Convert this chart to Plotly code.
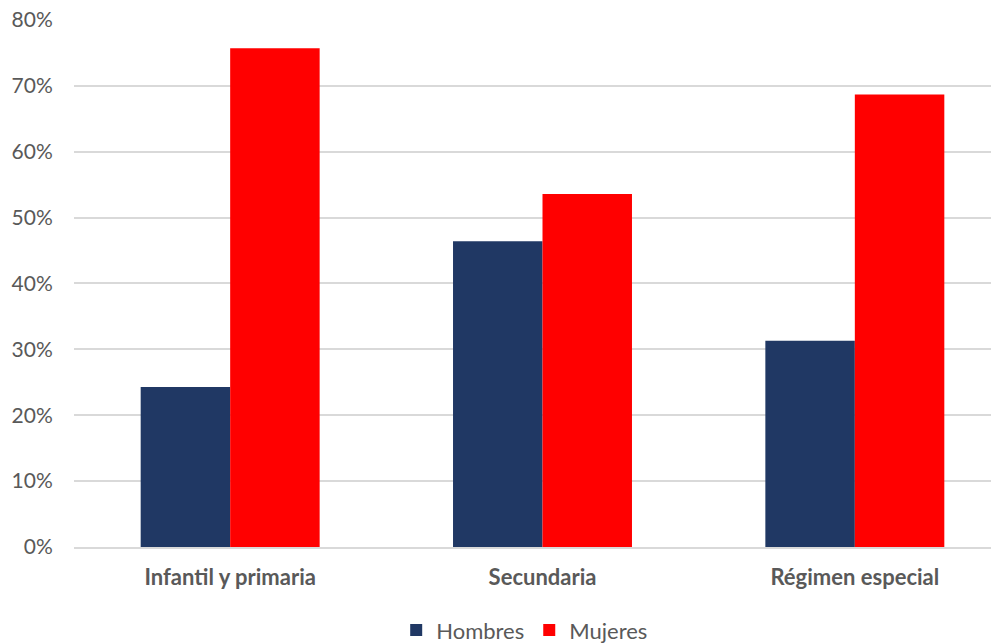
import plotly.graph_objects as go

categories = ["Infantil y primaria", "Secundaria", "Régimen especial"]
hombres = [0.243, 0.464, 0.313]
mujeres = [0.757, 0.536, 0.687]
tick_vals = [0, 0.1, 0.2, 0.3, 0.4, 0.5, 0.6, 0.7, 0.8]
tick_text = ["0%", "10%", "20%", "30%", "40%", "50%", "60%", "70%", "80%"]

font_family = "Lato, Carlito, Calibri, sans-serif"
grey = "#595959"

fig = go.Figure()
fig.add_trace(go.Bar(name="Hombres", x=categories, y=hombres, marker_color="#203864",
                     marker_line_width=0))
fig.add_trace(go.Bar(name="Mujeres", x=categories, y=mujeres, marker_color="#FF0000",
                     marker_line_width=0))

fig.update_layout(
    width=1003, height=635,
    margin=dict(l=66, r=0, t=11, b=96, autoexpand=False),
    barmode="group", bargap=0.427, bargroupgap=0,
    plot_bgcolor="white", paper_bgcolor="white",
    font=dict(family=font_family, color=grey, size=21),
    showlegend=True,
    legend=dict(orientation="h", x=0.481, xanchor="center", y=-0.118, yanchor="top",
                font=dict(size=22, color=grey), itemwidth=30, traceorder="normal"),
    xaxis=dict(tickfont=dict(size=22, color=grey, family=font_family, weight="bold"),
               showline=True, linecolor="#D9D9D9", linewidth=2, ticks="",
               showgrid=False, automargin=False, ticklabelstandoff=10),
    yaxis=dict(range=[0, 0.8015], tickvals=tick_vals, ticktext=tick_text,
               tickfont=dict(size=21, color=grey), showgrid=True,
               gridcolor="#D9D9D9", gridwidth=1.5, zeroline=False,
               ticks="outside", ticklen=16, tickcolor="white", automargin=False,
               ticklabeloverflow="allow"),
)

fig.write_html("out.html")
